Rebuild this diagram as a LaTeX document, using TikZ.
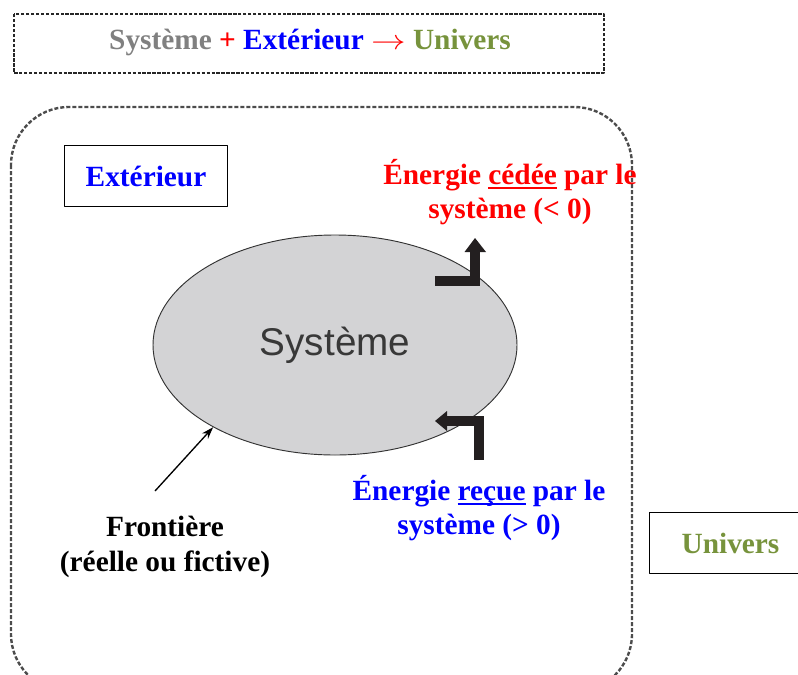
\documentclass[tikz,border=0pt]{standalone}
\usepackage{fontspec}
\setmainfont{Liberation Serif}
\newfontfamily\sysfont{Liberation Sans}
\usetikzlibrary{shapes.geometric,arrows.meta}
\definecolor{gristxt}{HTML}{808080}
\definecolor{rouge}{HTML}{FF0000}
\definecolor{bleu}{HTML}{0000FF}
\definecolor{vertolive}{HTML}{77933C}
\definecolor{grisfond}{HTML}{D3D3D5}
\definecolor{noirfleche}{HTML}{231F20}
\newcommand{\souligne}[1]{\setbox0\hbox{#1}\rlap{\rule[-4pt]{\wd0}{1.8pt}}\box0\relax}
\begin{document}
\begin{tikzpicture}[x=0.75pt, y=-0.75pt, line join=round, >={Stealth[length=9pt,width=6pt]},
  font=\fontsize{22}{26}\selectfont\bfseries,
  cadre/.style={draw, line width=0.8pt, minimum width=122pt, minimum height=45.5pt, inner sep=0pt},
  fleche/.style={draw=noirfleche, line width=7.5pt, line join=miter, line cap=butt}]
  \useasboundingbox (0,0) rectangle (798,674);
  % cadre du haut
  \draw[black!85, line width=0.8pt, dash pattern=on 2.5pt off 1.2pt] (14,14) rectangle (604,73);
  \node (titre) at (310,42) {\textcolor{gristxt}{Système} \textcolor{rouge}{+} \textcolor{bleu}{Extérieur} \textcolor{rouge}{\scalebox{1.25}[1]{$\rightarrow$}} \textcolor{vertolive}{Univers}};
  % univers
  \draw[black!70, line width=1.8pt, dash pattern=on 3pt off 1.5pt, rounded corners=43.5pt] (11,107) rectangle (632,692);
  \node[cadre, text=bleu] (ext) at (146,176) {Extérieur};
  \node[cadre, text=vertolive] (univ) at (730.5,543) {Univers};
  % systeme
  \node[ellipse, draw=black!80, line width=0.7pt, fill=grisfond, minimum width=273pt, minimum height=165pt, inner sep=0pt,
    font=\sysfont\fontsize{29}{30}\selectfont, text=black!78] (sys) at (335,345) {Système};
  % energie cedee
  \draw[fleche] (435,281) -| (475,251);
  \fill[noirfleche] (464.5,252) -- (486,252) -- (475,238) -- cycle;
  \node[text=rouge, align=center] (cedee) at (510,192) {Énergie \souligne{cédée} par le\\système (< 0)};
  % energie recue
  \draw[fleche] (479,460) |- (446,421);
  \fill[noirfleche] (447,411) -- (447,431) -- (435,421) -- cycle;
  \node[text=bleu, align=center] (recue) at (479,508) {Énergie \souligne{reçue} par le\\système (> 0)};
  % frontiere
  \node[align=center] (front) at (165,547) {Frontière\\(réelle ou fictive)};
  \coordinate (depart) at (155,491);
  \draw[->, line width=1pt] (depart) -- (sys.-146);
\end{tikzpicture}
\end{document}
